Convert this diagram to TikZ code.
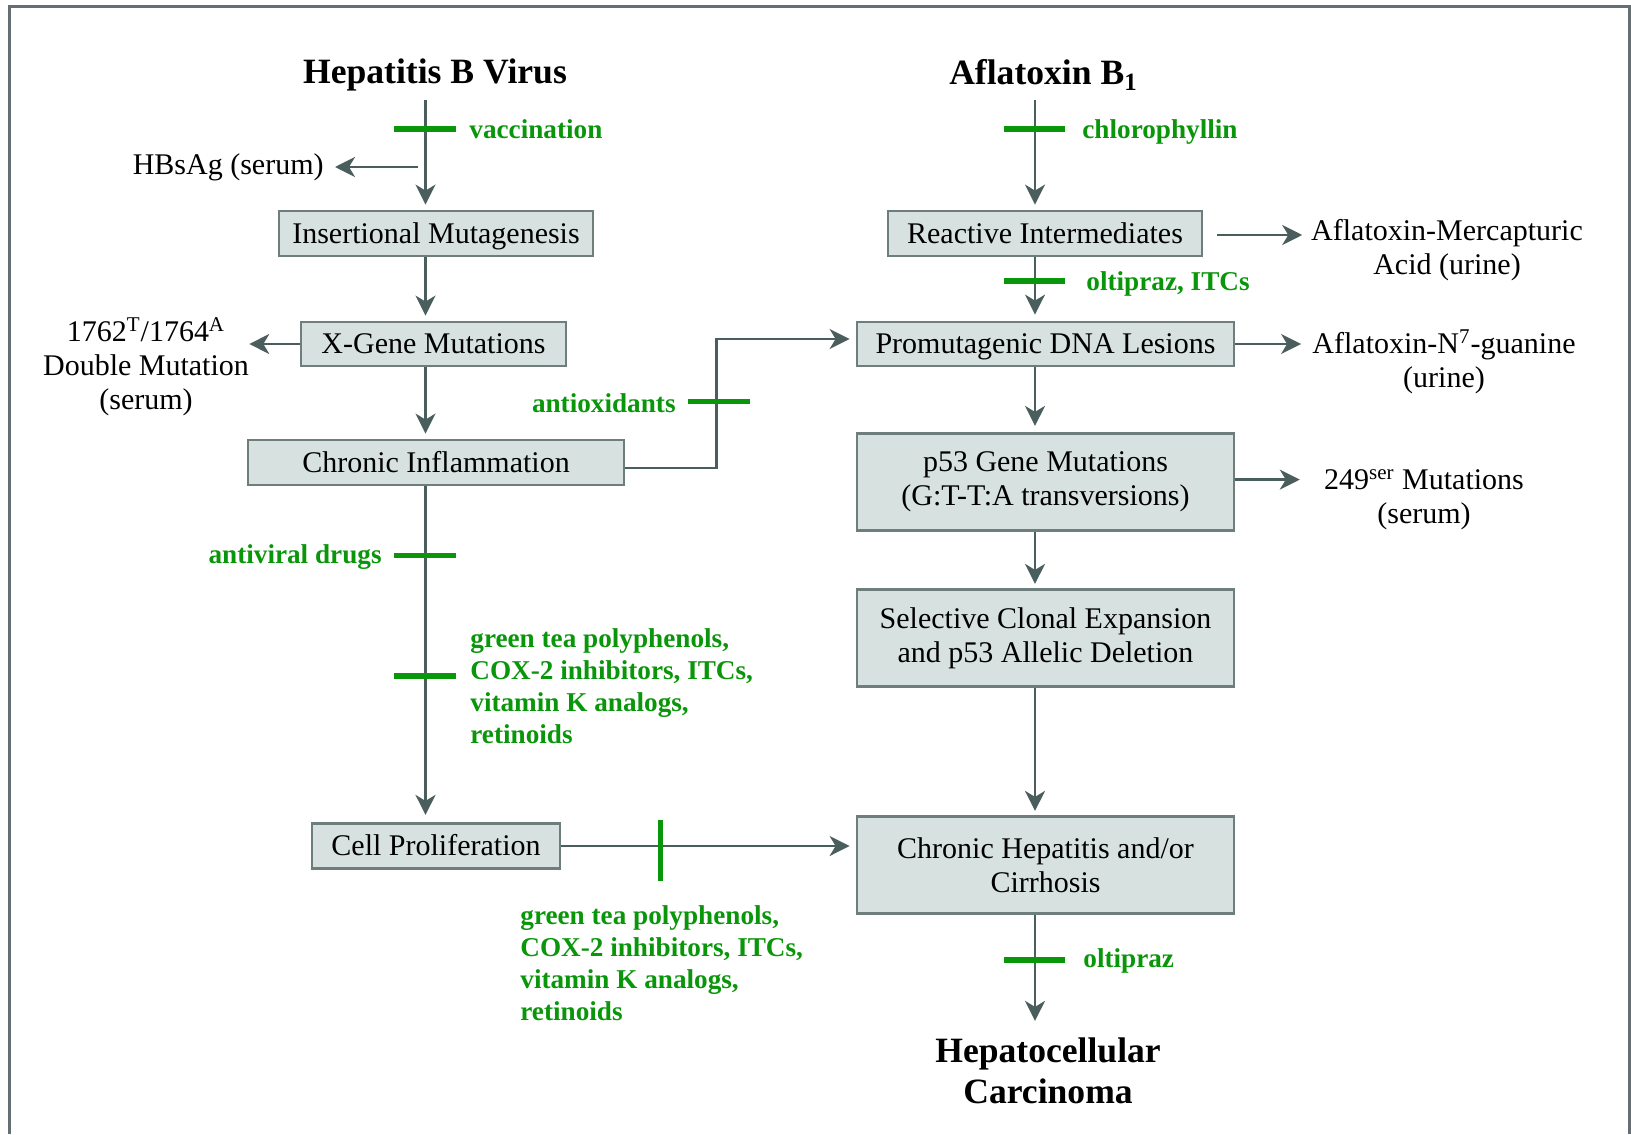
\documentclass[tikz,border=0pt]{standalone}
\usepackage{fontspec}
\setmainfont{Liberation Serif}
\usetikzlibrary{arrows.meta}
\definecolor{grn}{RGB}{10,150,10}
\definecolor{boxfill}{RGB}{215,226,224}
\definecolor{boxline}{RGB}{110,126,125}
\definecolor{arrowc}{RGB}{75,94,94}
\definecolor{framec}{RGB}{100,110,115}
\newcommand\normsize{\fontsize{15}{17}\selectfont}
\newcommand\glabfont{\fontsize{13.6}{16}\selectfont\bfseries}
\newcommand\titlefont{\fontsize{17.8}{20.2}\selectfont\bfseries}
\tikzset{
  box/.style={draw=boxline, fill=boxfill, line width=1.4pt, inner sep=0pt, align=center, font=\normsize},
  onebox/.style={box, text height=9.9pt, text depth=0pt},
  arr/.style={draw=arrowc, line width=1.25pt, -{Stealth[length=10pt,width=10pt,inset=3pt]}},
  bar/.style={draw=grn, line width=2.8pt},
  glab/.style={text=grn, font=\glabfont, inner sep=0pt, align=left},
  txt/.style={font=\normsize, inner sep=0pt, align=center},
  ttl/.style={font=\titlefont, inner sep=0pt, align=center},
}
\begin{document}
\begin{tikzpicture}[x=0.5pt,y=-0.5pt]
\useasboundingbox (0,0) rectangle (1631,1134);
\draw[framec, line width=1.5pt] (9.5,1134) -- (9.5,7) -- (1629.5,7) -- (1629.5,1134);
\coordinate (Lx) at (425.5,0);
\coordinate (Rx) at (1035,0);
% titles
\node[ttl] (hbv) at (435,74.5) {Hepatitis B Virus};
\node[ttl] (afb) at (1043.5,75) {Aflatoxin B\textsubscript{1}};
\node[ttl] (hcc) at (1048,1071) {Hepatocellular\\Carcinoma};
% boxes left
\node[onebox, minimum width=157pt, minimum height=22.5pt] (ins) at (436,233.5) {Insertional Mutagenesis};
\node[onebox, minimum width=132.5pt, minimum height=22pt] (xg) at (433.5,344) {X-Gene Mutations};
\node[onebox, minimum width=188pt, minimum height=22.5pt] (ci) at (436,462.5) {Chronic Inflammation};
\node[onebox, minimum width=124pt, minimum height=22.7pt] (cp) at (436,846) {Cell Proliferation};
% boxes right
\node[onebox, minimum width=157pt, minimum height=22.5pt] (ri) at (1045,233.5) {Reactive Intermediates};
\node[onebox, minimum width=188.5pt, minimum height=22pt] (pdl) at (1045.5,344) {Promutagenic DNA Lesions};
\node[box, minimum width=188.5pt, minimum height=48.7pt] (p53) at (1045.5,482) {p53 Gene Mutations\\(G:T-T:A transversions)};
\node[box, minimum width=188.5pt, minimum height=48.7pt] (sce) at (1045.5,638) {Selective Clonal Expansion\\and p53 Allelic Deletion};
\node[box, minimum width=188.5pt, minimum height=48.7pt] (chc) at (1045.5,865) {Chronic Hepatitis and/or\\Cirrhosis};
% side labels
\node[txt, anchor=east] (hbsag) at (324,167) {HBsAg (serum)};
\node[txt] (dm) at (146,367) {1762\textsuperscript{T}/1764\textsuperscript{A}\\Double Mutation\\(serum)};
\node[txt] (merc) at (1447,250) {Aflatoxin-Mercapturic\\Acid (urine)};
\node[txt] (n7) at (1444,362) {Aflatoxin-N\textsuperscript{7}-guanine\\(urine)};
\node[txt] (ser) at (1424,500) {249\textsuperscript{ser} Mutations\\(serum)};
% green labels
\node[glab, anchor=base west] (vacc) at (469,139) {vaccination};
\node[glab, anchor=base west] (chl) at (1082,139) {chlorophyllin};
\node[glab, anchor=base west] (olt1) at (1086,290) {oltipraz, ITCs};
\node[glab, anchor=base east] (aox) at (676,412) {antioxidants};
\node[glab, anchor=base east] (avd) at (382,563) {antiviral drugs};
\node[glab, anchor=west] (gt1) at (470,686) {green tea polyphenols,\\COX-2 inhibitors, ITCs,\\vitamin K analogs,\\retinoids};
\node[glab, anchor=west] (gt2) at (520,963.5) {green tea polyphenols,\\COX-2 inhibitors, ITCs,\\vitamin K analogs,\\retinoids};
\node[glab, anchor=base west] (olt2) at (1083,967) {oltipraz};
% left column connectors
\draw[arr, shorten <=4.5pt, shorten >=2.5pt] (hbv.south -| Lx) -- (ins.north -| Lx);
\draw[arr, shorten <=4pt, shorten >=5.5pt] (hbsag.east -| Lx) -- (hbsag.east);
\draw[arr, shorten >=2.5pt] (ins.south -| Lx) -- (xg.north -| Lx);
\draw[arr] (xg.west) -- (xg.west -| dm.east);
\draw[arr, shorten >=2.5pt] (xg.south -| Lx) -- (ci.north -| Lx);
\coordinate (jog) at (716.7,339);
\draw[arr, shorten >=3pt] ([yshift=-2.75pt]ci.east) -| (jog) -- (jog -| pdl.west);
\draw[arr, shorten >=3.5pt] (ci.south -| Lx) -- (cp.north -| Lx);
\draw[arr, shorten >=3pt] (cp.east) -- (cp.east -| chc.west);
% right column connectors
\draw[arr, shorten <=4.5pt, shorten >=2.5pt] (afb.south -| Rx) -- (ri.north -| Rx);
\draw[arr, shorten <=7pt, shorten >=4.3pt] ([yshift=-0.75pt]ri.east) -- ([yshift=-0.75pt]ri.east -| merc.west);
\draw[arr, shorten >=3pt] (ri.south -| Rx) -- (pdl.north -| Rx);
\draw[arr, shorten >=5.5pt] (pdl.east) -- (pdl.east -| n7.west);
\draw[arr, shorten >=3pt] (pdl.south -| Rx) -- (p53.north -| Rx);
\draw[arr, shorten >=12pt] ([yshift=1.2pt]p53.east) -- ([yshift=1.2pt]p53.east -| ser.west);
\draw[arr, shorten >=2pt] (p53.south -| Rx) -- (sce.north -| Rx);
\draw[arr, shorten >=2pt] (sce.south -| Rx) -- (chc.north -| Rx);
\draw[arr, shorten >=8.5pt] (chc.south -| Rx) -- (hcc.north -| Rx);
% inhibition bars
\draw[bar] (394,129) -- (455.6,129);
\draw[bar] (1004,129) -- (1065,129);
\draw[bar] (1004,281) -- (1065,281);
\draw[bar] (687.6,401.5) -- (750,401.5);
\draw[bar] (394,555.5) -- (455.6,555.5);
\draw[bar] (394,676) -- (455.6,676);
\draw[bar] (660.5,819.7) -- (660.5,881);
\draw[bar] (1004,960) -- (1065,960);
\end{tikzpicture}
\end{document}
